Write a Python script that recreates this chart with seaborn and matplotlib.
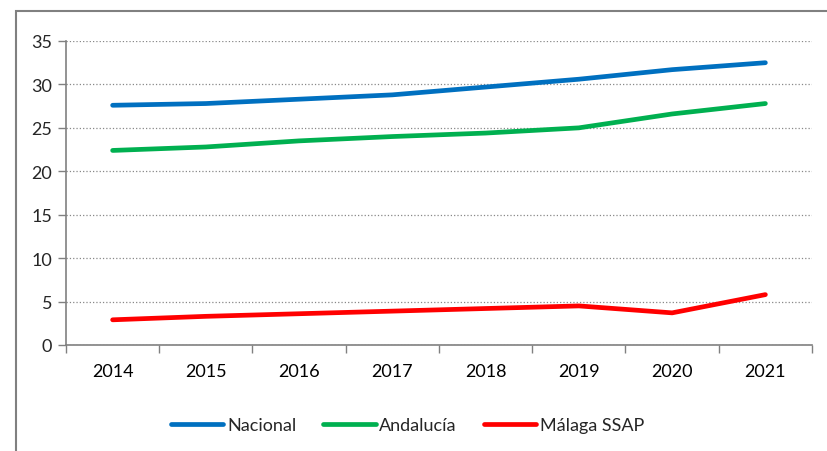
import pandas as pd
import matplotlib
matplotlib.use("Agg")
import matplotlib.pyplot as plt
from matplotlib.patches import Rectangle
from matplotlib.ticker import FixedLocator
import seaborn as sns

# --- Data ---
YEARS = ['2014', '2015', '2016', '2017', '2018', '2019', '2020', '2021']
NACIONAL = [27.6, 27.8, 28.3, 28.8, 29.7, 30.6, 31.7, 32.5]
ANDALUCIA = [22.4, 22.8, 23.5, 24.0, 24.4, 25.0, 26.6, 27.8]
MALAGA = [2.9, 3.3, 3.6, 3.9, 4.2, 4.5, 3.7, 5.8]
SERIES = ['Nacional', 'Andalucía', 'Málaga SSAP']
COLORS = ['#0070C0', '#00B050', '#FF0000']

df = pd.DataFrame({
    'year': YEARS * 3,
    'value': NACIONAL + ANDALUCIA + MALAGA,
    'serie': [s for s in SERIES for _ in YEARS],
})

sns.set_style('white')
plt.rcParams['font.family'] = ['Lato', 'DejaVu Sans']

fig = plt.figure(figsize=(8.28, 4.52), dpi=100)
ax = fig.add_axes([66 / 828, 1 - 346 / 452, (812 - 66) / 828, (346 - 42) / 452])

# outer chart frame
fig.patches.append(Rectangle((16 / 828, -0.05), 1.1, 1 - 12 / 452 + 0.05,
                             transform=fig.transFigure, fill=False,
                             edgecolor='#808080', linewidth=1.5, zorder=0))

sns.lineplot(data=df, x='year', y='value', hue='serie', palette=COLORS,
             linewidth=3.4, ax=ax, sort=False, solid_capstyle='round')

ax.set_ylim(0, 35)
ax.set_xlim(-0.5, len(YEARS) - 0.5)
ax.set_yticks(range(0, 36, 5))
ax.xaxis.set_minor_locator(FixedLocator([i - 0.5 for i in range(len(YEARS) + 1)]))
ax.tick_params(axis='x', which='major', length=0, pad=13, labelsize=13, colors='black')
ax.tick_params(axis='x', which='minor', length=6, width=1, color='#808080', direction='out', bottom=True)
ax.tick_params(axis='y', which='major', length=6, width=1, color='#808080', direction='out', left=True,
               labelsize=13, pad=4)
ax.set_xlabel('')
ax.set_ylabel('')

ax.grid(axis='y', linestyle=':', color='#888888', linewidth=0.9)
ax.set_axisbelow(True)
for side in ['top', 'right']:
    ax.spines[side].set_visible(False)
for side in ['left', 'bottom']:
    ax.spines[side].set_color('#808080')
    ax.spines[side].set_linewidth(1.2)

leg = ax.legend(loc='upper center', bbox_to_anchor=(0.458, -0.185), ncol=3, frameon=False,
                fontsize=13, handlelength=2.9, handletextpad=0.2, columnspacing=1.5)
for line in leg.get_lines():
    line.set_linewidth(3.4)
    line.set_solid_capstyle('round')

fig.savefig('out.png', dpi=100)
